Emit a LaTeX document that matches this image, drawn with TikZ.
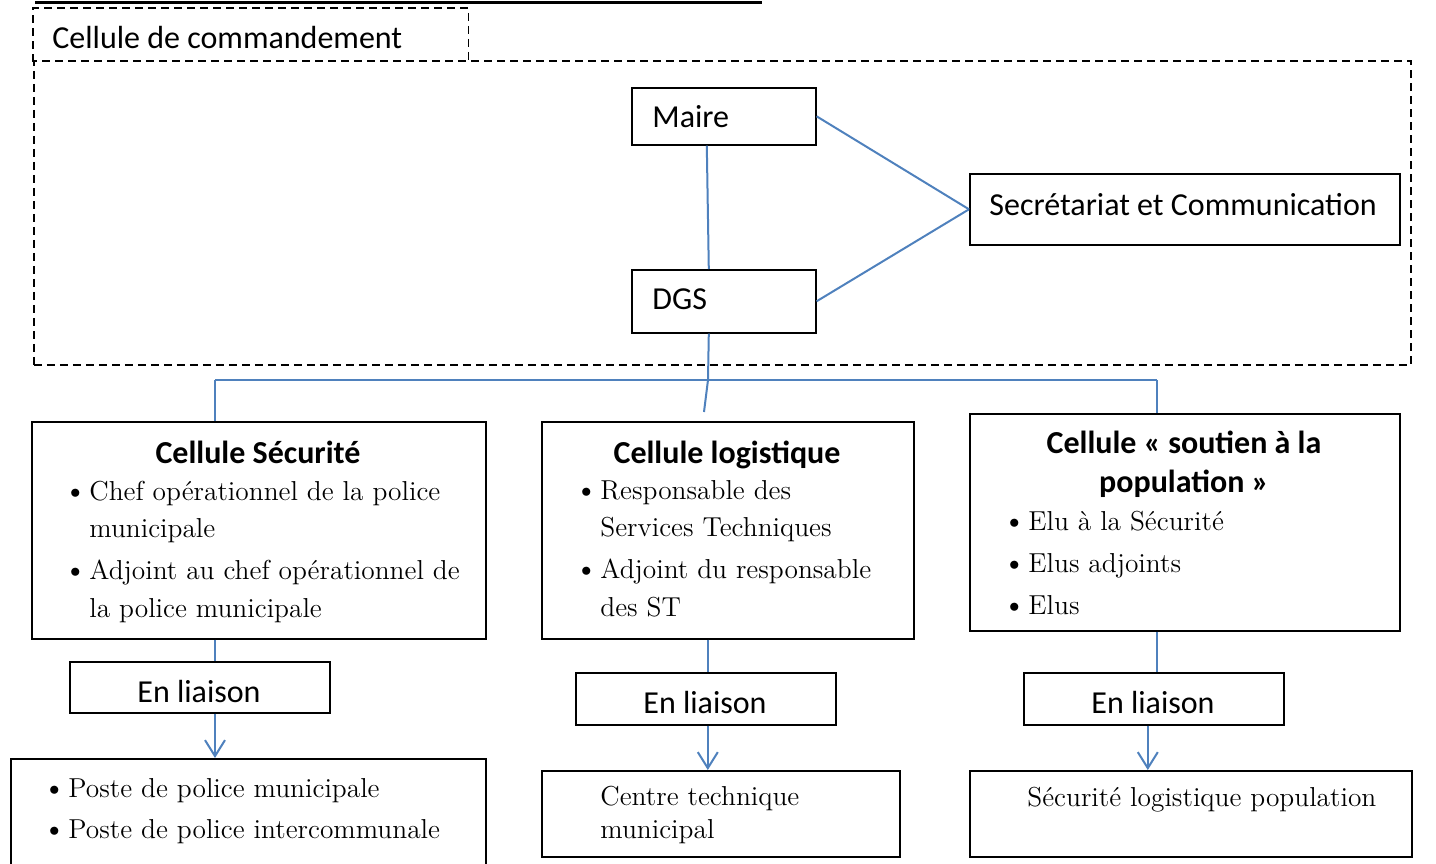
\documentclass[tikz,border=0pt]{standalone}
\usepackage{fontspec}
\newfontfamily\calibri{Carlito}
\usetikzlibrary{arrows.meta}
\definecolor{lienbleu}{RGB}{79,129,189}
\newcommand{\puce}{\makebox[9.5pt][l]{\hspace*{-3.3pt}\scalebox{1.1}{\textbullet}}}
\newcommand{\retrait}{\hspace*{9.5pt}}

\begin{document}
\begin{tikzpicture}[x=0.5pt, y=-0.5pt,
    cadre/.style={draw, line width=0.8pt, inner sep=0pt, anchor=north west}, % les boîtes
    pointille/.style={cadre, dash pattern=on 4pt off 2.5pt},
    lien/.style={draw=lienbleu, line width=1pt},
    fleche/.style={lien, -{Straight Barb[length=8pt, width=10pt]}},
    sans/.style={font=\calibri\fontsize{16}{19.5}\selectfont, inner sep=0pt, anchor=base west},
    titre/.style={font=\calibri\bfseries\fontsize{16}{19.5}\selectfont, inner sep=0pt, anchor=base},
    serif/.style={font=\fontsize{13.7}{18.75}\selectfont, inner sep=0pt, anchor=base west}
    ]
\useasboundingbox (0,0) rectangle (1436,863);
\draw[line width=1.5pt] (35,2) -- (762,2);

% cellule de commandement
\node[cadre, draw=none, minimum width=217pt, minimum height=26pt] (cmdtitre) at (33,8) {};
\draw[line width=0.8pt, dash pattern=on 4pt off 2.5pt] (cmdtitre.south west) |- (cmdtitre.north east) -- (cmdtitre.south east);
\node[pointille, minimum width=688.5pt, minimum height=152pt] (cmd) at (33,60) {};
\node[sans] (cmdtxt) at (52,48) {Cellule de commandement};

\node[cadre, minimum width=92pt, minimum height=28.5pt] (maire) at (631,87) {};
\node[sans] (mairetxt) at (652,127) {Maire};
\node[cadre, minimum width=92pt, minimum height=31.5pt] (dgs) at (631,269) {};
\node[sans] (dgstxt) at (652,309) {DGS};
\node[cadre, minimum width=215pt, minimum height=35.5pt] (secr) at (969,173) {};
\node[sans] (secrtxt) at (989,215) {Secrétariat et Communication};

% les trois cellules
\node[cadre, minimum width=227pt, minimum height=108.5pt] (secu) at (31,421) {};
\node[titre] (secutitre) at (258,463) {Cellule Sécurité};
\node[serif] (sectxt) at (70,500) {\begin{tabular}[t]{@{}l@{}}
  \puce Chef opérationnel de la police\\
  \retrait municipale\\[2.25pt]
  \puce Adjoint au chef opérationnel de\\
  \retrait la police municipale
  \end{tabular}};

\node[cadre, minimum width=186pt, minimum height=108.5pt] (logi) at (541,421) {};
\node[titre] (logititre) at (727,463) {Cellule logistique};
\node[serif] (logitxt) at (581,499) {\begin{tabular}[t]{@{}l@{}}
  \puce Responsable des\\
  \retrait Services Techniques\\[2.25pt]
  \puce Adjoint du responsable\\
  \retrait des ST
  \end{tabular}};

\node[cadre, minimum width=215pt, minimum height=108.5pt] (soutien) at (969,413) {};
\node[titre] (soutientitre) at (1184,453) {\begin{tabular}[t]{@{}c@{}}
  Cellule « soutien à la\\ population »
  \end{tabular}};
\node[serif] (soutientxt) at (1009,530) {\begin{tabular}[t]{@{}l@{}}
  \puce Elu à la Sécurité\\[2.25pt]
  \puce Elus adjoints\\[2.25pt]
  \puce Elus
  \end{tabular}};

% en liaison
\node[cadre, minimum width=130pt, minimum height=25.5pt] (liaison1) at (69,661) {};
\node[sans, anchor=base] (liaison1txt) at (199,702) {En liaison};
\node[cadre, minimum width=130pt, minimum height=26pt] (liaison2) at (575,672) {};
\node[sans, anchor=base] (liaison2txt) at (705,713) {En liaison};
\node[cadre, minimum width=130pt, minimum height=26pt] (liaison3) at (1023,672) {};
\node[sans, anchor=base] (liaison3txt) at (1153,713) {En liaison};

% en bas
\node[cadre, minimum width=237.5pt, minimum height=56pt] (postes) at (10,758) {};
\node[serif] (postestxt) at (49,797) {\begin{tabular}[t]{@{}l@{}}
  \puce Poste de police municipale\\[1.75pt]
  \puce Poste de police intercommunale
  \end{tabular}};
\node[cadre, minimum width=179pt, minimum height=43pt] (centre) at (541,770) {};
\node[serif] (centretxt) at (600,805) {\begin{tabular}[t]{@{}l@{}}
  Centre technique\\[-2.25pt]
  municipal
  \end{tabular}};
\node[cadre, minimum width=221pt, minimum height=43pt] (slp) at (969,770) {};
\node[serif] (slptxt) at (1027,806) {Sécurité logistique population};

% liens
\coordinate (bus) at (708,380);
\coordinate (busG) at (215,380);
\coordinate (busD) at (1157,380);
\coordinate (logiN) at (704,412);
\draw[lien] ([xshift=-8.5pt]maire.south) -- ([xshift=-7.5pt]dgs.north);
\draw[lien] (maire.east) -- (secr.west);
\draw[lien] (dgs.east) -- (secr.west);
\draw[lien] ([xshift=-7.5pt]dgs.south) -- (bus);
\draw[lien, line width=1.3pt] (busG) -- (busD);
\draw[lien] (busG) -- (busG |- secu.north);
\draw[lien] (bus) -- (logiN);
\draw[lien, line width=1.3pt] (busD) -- (busD |- soutien.north);

\draw[lien] (busG |- secu.south) -- (busG |- liaison1.north);
\draw[fleche] (busG |- liaison1.south) -- (busG |- postes.north);
\draw[lien] ([xshift=-10pt]logi.south) -- ([xshift=-10pt]logi.south |- liaison2.north);
\draw[fleche] ([xshift=1pt]liaison2.south) -- ([xshift=1pt]liaison2.south |- centre.north);
\draw[lien, line width=1.3pt] (busD |- soutien.south) -- (busD |- liaison3.north);
\draw[fleche] ([xshift=-3pt]liaison3.south) -- ([xshift=-3pt]liaison3.south |- slp.north);
\end{tikzpicture}
\end{document}
